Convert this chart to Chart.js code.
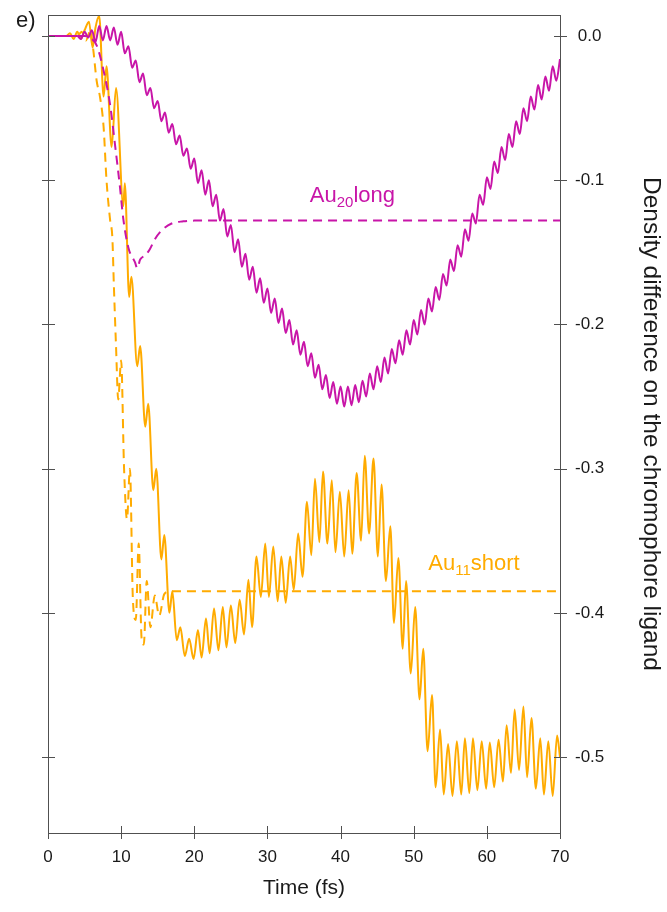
<!DOCTYPE html>
<html>
<head>
<meta charset="utf-8">
<script src="https://cdn.jsdelivr.net/npm/chart.js@4"></script>
<style>
  html, body { margin: 0; padding: 0; background: #fff; }
  canvas { display: block; }
</style>
</head>
<body>
<canvas id="densityChart" width="667" height="912"></canvas>
<script>
// time (fs) / density difference pairs
const au20LongSolid = [
  [0, 0], [4, 0], [4.5, -0.002], [5, 0.003], [5.5, -0.001], [6, 0.004], [6.5, -0.004], [7, 0.007],
  [7.5, -0.003], [8, 0.007], [8.5, -0.003], [9, 0.006], [9.5, -0.006], [10, 0.003], [10.5, -0.012],
  [11, -0.007], [11.5, -0.022], [12, -0.017], [12.5, -0.032], [13, -0.026], [13.5, -0.041], [14, -0.036],
  [14.5, -0.050], [15, -0.045], [15.5, -0.059], [16, -0.053], [16.5, -0.067], [17, -0.061], [17.5, -0.075],
  [18, -0.069], [18.5, -0.083], [19, -0.078], [19.5, -0.092], [20, -0.085], [20.5, -0.102], [21, -0.093],
  [21.5, -0.110], [22, -0.100], [22.5, -0.118], [23, -0.110], [23.5, -0.128], [24, -0.120], [24.5, -0.139],
  [25, -0.131], [25.5, -0.150], [26, -0.141], [26.5, -0.160], [27, -0.151], [27.5, -0.169], [28, -0.160],
  [28.5, -0.178], [29, -0.168], [29.5, -0.185], [30, -0.175], [30.5, -0.192], [31, -0.182], [31.5, -0.199],
  [32, -0.189], [32.5, -0.206], [33, -0.197], [33.5, -0.214], [34, -0.204], [34.5, -0.221], [35, -0.212],
  [35.5, -0.229], [36, -0.220], [36.5, -0.237], [37, -0.228], [37.5, -0.245], [38, -0.235], [38.5, -0.251],
  [39, -0.240], [39.5, -0.255], [40, -0.243], [40.5, -0.257], [41, -0.243], [41.5, -0.256], [42, -0.242],
  [42.5, -0.254], [43, -0.239], [43.5, -0.250], [44, -0.234], [44.5, -0.245], [45, -0.229], [45.5, -0.240],
  [46, -0.223], [46.5, -0.234], [47, -0.217], [47.5, -0.227], [48, -0.211], [48.5, -0.221], [49, -0.204],
  [49.5, -0.214], [50, -0.197], [50.5, -0.207], [51, -0.190], [51.5, -0.200], [52, -0.182], [52.5, -0.191],
  [53, -0.174], [53.5, -0.183], [54, -0.165], [54.5, -0.173], [55, -0.155], [55.5, -0.163], [56, -0.145],
  [56.5, -0.153], [57, -0.134], [57.5, -0.142], [58, -0.123], [58.5, -0.130], [59, -0.110], [59.5, -0.117],
  [60, -0.098], [60.5, -0.106], [61, -0.087], [61.5, -0.095], [62, -0.077], [62.5, -0.086], [63, -0.068],
  [63.5, -0.077], [64, -0.059], [64.5, -0.068], [65, -0.050], [65.5, -0.059], [66, -0.042], [66.5, -0.051],
  [67, -0.034], [67.5, -0.044], [68, -0.028], [68.5, -0.038], [69, -0.021], [69.5, -0.031], [70, -0.016]
];

const au20LongDashed = [
  [0, 0], [5, 0], [6, -0.002], [6.7, -0.007], [7.6, -0.024], [8.5, -0.048], [9.2, -0.077], [9.8, -0.103],
  [10.3, -0.127], [11.0, -0.147], [11.9, -0.157], [12.2, -0.161], [12.6, -0.155], [13.3, -0.152],
  [13.9, -0.148], [14.6, -0.141], [15.5, -0.135], [16.9, -0.130], [18.5, -0.1285], [20, -0.128], [70, -0.128]
];

const au11ShortSolid = [
  [0, 0], [2.5, 0], [3, 0.002], [3.5, -0.002], [4, 0.003], [4.5, -0.002], [5, 0.004], [5.6, 0.010],
  [6.1, -0.008], [6.5, 0.006], [7.0, 0.014], [7.6, -0.042], [8.0, -0.021], [8.7, -0.077], [9.3, -0.036],
  [10.3, -0.118], [10.5, -0.102], [11.1, -0.181], [11.4, -0.167], [12.2, -0.229], [12.6, -0.215],
  [13.3, -0.271], [13.7, -0.255], [14.4, -0.315], [14.8, -0.300], [15.5, -0.363], [15.9, -0.346],
  [16.6, -0.400], [17.0, -0.385], [17.6, -0.419], [18.1, -0.410], [18.7, -0.430], [19.3, -0.418],
  [19.9, -0.432], [20.5, -0.412], [21.0, -0.431], [21.6, -0.404], [22.1, -0.428], [22.7, -0.397],
  [23.3, -0.426], [23.9, -0.396], [24.4, -0.424], [25.0, -0.395], [25.6, -0.421], [26.2, -0.391],
  [26.8, -0.415], [27.4, -0.377], [27.9, -0.410], [28.5, -0.361], [29.1, -0.389], [29.7, -0.352],
  [30.2, -0.389], [30.8, -0.354], [31.4, -0.392], [31.9, -0.361], [32.5, -0.393], [33.1, -0.361],
  [33.6, -0.384], [34.2, -0.345], [34.8, -0.375], [35.4, -0.323], [36.0, -0.360], [36.5, -0.307],
  [37.1, -0.351], [37.6, -0.302], [38.2, -0.352], [38.8, -0.308], [39.3, -0.358], [39.9, -0.316],
  [40.5, -0.361], [41.1, -0.315], [41.6, -0.359], [42.2, -0.303], [42.8, -0.350], [43.3, -0.291],
  [43.9, -0.345], [44.5, -0.293], [45.1, -0.361], [45.6, -0.311], [46.2, -0.378], [46.8, -0.340],
  [47.3, -0.407], [47.9, -0.362], [48.5, -0.425], [48.95, -0.378], [49.6, -0.442], [50.2, -0.396],
  [50.8, -0.460], [51.3, -0.425], [51.9, -0.496], [52.5, -0.457], [53.0, -0.521], [53.6, -0.481],
  [54.1, -0.526], [54.7, -0.491], [55.3, -0.527], [55.9, -0.489], [56.5, -0.526], [57.0, -0.487],
  [57.6, -0.525], [58.1, -0.487], [58.7, -0.523], [59.3, -0.489], [59.9, -0.522], [60.4, -0.490],
  [61.0, -0.521], [61.6, -0.488], [62.2, -0.517], [62.7, -0.478], [63.3, -0.511], [63.8, -0.467],
  [64.4, -0.509], [65.0, -0.465], [65.5, -0.514], [66.1, -0.473], [66.7, -0.522], [67.3, -0.487],
  [67.8, -0.526], [68.4, -0.489], [69.0, -0.527], [69.6, -0.485], [70, -0.500]
];

const au11ShortDashed = [
  [0, 0], [4, 0], [4.6, 0.003], [5.2, -0.003], [5.8, 0.004], [6.2, -0.010], [6.65, -0.031], [7.1, -0.042],
  [7.6, -0.063], [8.0, -0.100], [8.5, -0.128], [8.8, -0.140], [9.0, -0.172], [9.3, -0.215], [9.6, -0.252],
  [10.0, -0.225], [10.4, -0.300], [10.8, -0.335], [11.2, -0.300], [11.6, -0.390], [12.0, -0.405],
  [12.4, -0.352], [12.8, -0.418], [13.1, -0.422], [13.5, -0.378], [14.0, -0.410], [14.6, -0.388],
  [15.2, -0.402], [15.9, -0.387], [16.7, -0.385], [70, -0.385]
];

const timeTicks = [0, 10, 20, 30, 40, 50, 60, 70];
const densityTicks = [-0.5, -0.4, -0.3, -0.2, -0.1, 0];

const MAGENTA = "#c815a8";
const ORANGE = "#ffab00";
const INK = "#1a1a1a";
const FRAME = "#505050";

function toPoints(pairs) {
  return pairs.map(([t, v]) => ({ x: t, y: v }));
}

function lineSet(label, pairs, color, dashed) {
  return {
    label: label,
    data: toPoints(pairs),
    borderColor: color,
    borderWidth: 2,
    borderDash: dashed ? [9, 6] : [],
    pointRadius: 0,
    fill: false,
    cubicInterpolationMode: "monotone",
  };
}

// scales must not push the plot box around for label overhang
function noOverhang(scale) {
  scale.paddingTop = 0;
  scale.paddingBottom = 0;
  scale.paddingLeft = 0;
  scale.paddingRight = 0;
}

// box, tick marks crossing the box, panel letter and series names
const decorations = {
  id: "decorations",
  afterDraw(chart) {
    const { ctx, chartArea: a, scales } = chart;
    ctx.save();
    ctx.strokeStyle = FRAME;
    ctx.lineWidth = 1;
    ctx.strokeRect(a.left + 0.5, a.top + 0.5, a.right - a.left, a.bottom - a.top);

    ctx.beginPath();
    densityTicks.forEach((v) => {
      const y = Math.round(scales.y.getPixelForValue(v)) + 0.5;
      ctx.moveTo(a.left - 6, y);
      ctx.lineTo(a.left + 7, y);
      ctx.moveTo(a.right - 6, y);
      ctx.lineTo(a.right + 7, y);
    });
    timeTicks.forEach((t) => {
      const x = Math.round(scales.x.getPixelForValue(t)) + 0.5;
      ctx.moveTo(x, a.bottom - 7);
      ctx.lineTo(x, a.bottom + 6);
    });
    ctx.stroke();

    const family = "'Liberation Sans', Arial, sans-serif";
    ctx.fillStyle = INK;
    ctx.font = "22px " + family;
    ctx.textBaseline = "alphabetic";
    ctx.fillText("e)", 16, 27);

    function subscripted(parts, t, v, color) {
      let x = scales.x.getPixelForValue(t);
      const y = scales.y.getPixelForValue(v);
      ctx.fillStyle = color;
      parts.forEach(([text, sub]) => {
        ctx.font = (sub ? "15px " : "22px ") + family;
        ctx.fillText(text, x, sub ? y + 5 : y);
        x += ctx.measureText(text).width;
      });
    }
    subscripted([["Au", false], ["20", true], ["long", false]], 35.8, -0.115, MAGENTA);
    subscripted([["Au", false], ["11", true], ["short", false]], 52.0, -0.370, ORANGE);
    ctx.restore();
  },
};

Chart.defaults.font.family = "'Liberation Sans', Arial, sans-serif";
Chart.defaults.color = INK;

new Chart(document.getElementById("densityChart"), {
  type: "line",
  data: {
    datasets: [
      lineSet("Au20long", au20LongSolid, MAGENTA, false),
      lineSet("Au20long dashed", au20LongDashed, MAGENTA, true),
      lineSet("Au11short", au11ShortSolid, ORANGE, false),
      lineSet("Au11short dashed", au11ShortDashed, ORANGE, true),
    ],
  },
  options: {
    responsive: false,
    animation: false,
    devicePixelRatio: 1,
    layout: { padding: { left: 48, top: 15, right: 0, bottom: 0 } },
    plugins: { legend: { display: false }, tooltip: { enabled: false } },
    scales: {
      x: {
        type: "linear",
        min: 0,
        max: 70,
        grid: { display: false, drawTicks: false },
        border: { display: false },
        afterBuildTicks: (scale) => {
          scale.ticks = timeTicks.map((v) => ({ value: v }));
        },
        afterFit: (scale) => {
          scale.height = 79;
          noOverhang(scale);
        },
        ticks: { font: { size: 17 }, color: INK, padding: 14, maxRotation: 0 },
        title: {
          display: true,
          text: "Time (fs)",
          color: INK,
          font: { size: 21 },
          padding: { top: 0, bottom: 11 },
        },
      },
      y: {
        type: "linear",
        position: "right",
        min: -0.5527,
        max: 0.0146,
        grid: { display: false, drawTicks: false },
        border: { display: false },
        afterBuildTicks: (scale) => {
          scale.ticks = densityTicks.map((v) => ({ value: v }));
        },
        afterFit: (scale) => {
          scale.width = 107;
          noOverhang(scale);
        },
        ticks: {
          font: { size: 17 },
          color: INK,
          padding: 15,
          crossAlign: "center",
          callback: (v) => (v === 0 ? "0.0" : Number(v).toFixed(1)),
        },
        title: {
          display: true,
          text: "Density difference on the chromophore ligand",
          color: INK,
          font: { size: 24.5 },
          padding: { top: 2, bottom: 0 },
        },
      },
    },
  },
  plugins: [decorations],
});
</script>
</body>
</html>
